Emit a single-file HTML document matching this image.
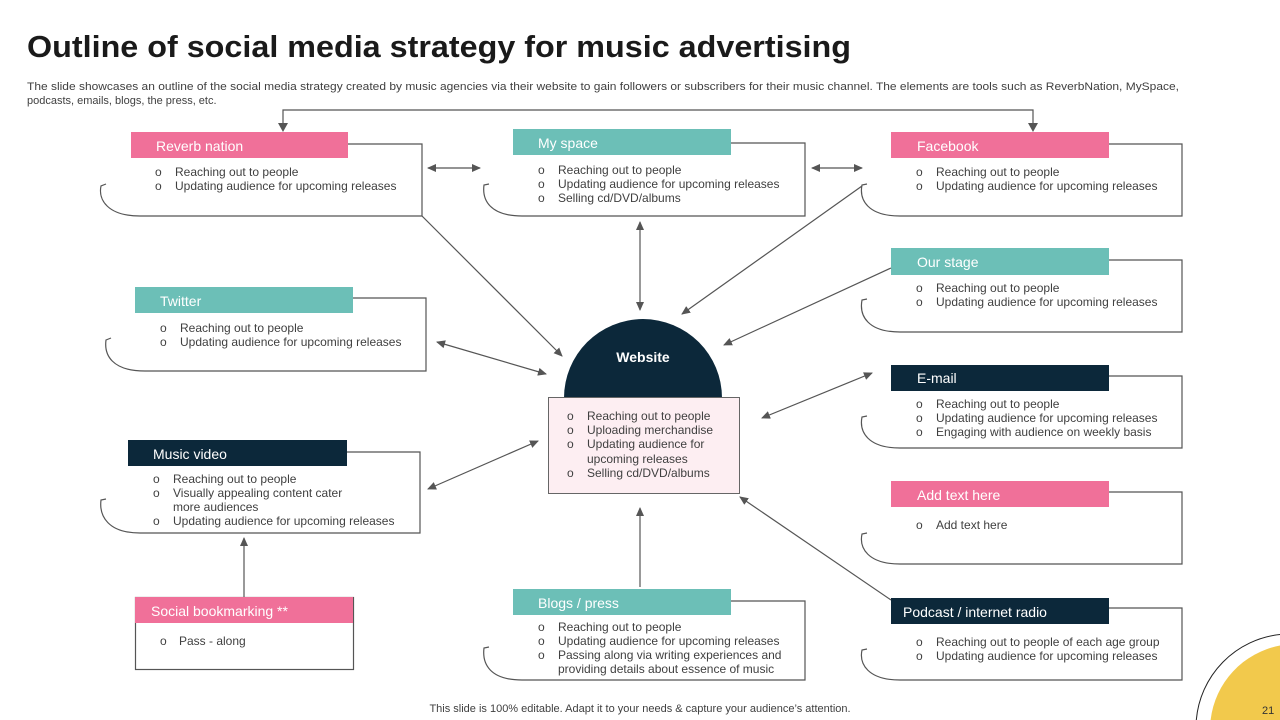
<!DOCTYPE html>
<html><head><meta charset="utf-8"><style>
html,body{margin:0;padding:0;background:#fff;width:1280px;height:720px;overflow:hidden;}
svg{display:block;font-family:"Liberation Sans",sans-serif;}
.b{font-size:12px;fill:#404040;}
.h{font-size:14px;fill:#fff;}
.ln{stroke:#555;stroke-width:1.2;fill:none;}
.ar{stroke:#555;stroke-width:1.2;fill:none;marker-end:url(#a);}
.ar2{stroke:#555;stroke-width:1.2;fill:none;marker-end:url(#a);marker-start:url(#as);}
</style></head><body>
<svg width="1280" height="720" viewBox="0 0 1280 720" xmlns="http://www.w3.org/2000/svg">
<defs>
<marker id="a" markerWidth="10" markerHeight="10" refX="8" refY="5" orient="auto" markerUnits="userSpaceOnUse"><path d="M0,1 L9,5 L0,9 z" fill="#555"/></marker>
<marker id="as" markerWidth="10" markerHeight="10" refX="1" refY="5" orient="auto" markerUnits="userSpaceOnUse"><path d="M9,1 L0,5 L9,9 z" fill="#555"/></marker>
</defs>

<text x="27" y="57" font-size="31" font-weight="bold" fill="#1a1a1a" textLength="824" lengthAdjust="spacingAndGlyphs">Outline of social media strategy for music  advertising</text>
<text x="27" y="90" font-size="11" fill="#404040" textLength="1152" lengthAdjust="spacingAndGlyphs">The slide showcases an outline of the social media strategy created by music agencies via their website to gain followers or subscribers for their music channel. The elements are tools such as ReverbNation, MySpace,</text>
<text x="27" y="104" font-size="11" fill="#404040">podcasts, emails, blogs, the press, etc.</text>

<path class="ln" d="M283,124 V110 H1033 V124"/>
<path d="M278,123 L283,132 L288,123z M1028,123 L1033,132 L1038,123z" fill="#555"/>

<g class="ln">
<path d="M348,144 H422 V216 H140 C108,216 98,200 101,186 L106,184"/>
<path d="M731,143 H805 V216 H522 C490,216 482,200 484,185 L489,184"/>
<path d="M1109,144 H1182 V216 H900 C868,216 859,200 862,185 L867,184"/>
<path d="M353,298 H426 V371 H145 C112,371 104,355 106,340 L111,338"/>
<path d="M1109,260 H1182 V332 H900 C868,332 859,316 862,300 L867,299"/>
<path d="M1109,376 H1182 V448 H900 C868,448 859,432 862,417 L867,416"/>
<path d="M347,452 H420 V533 H140 C108,533 99,516 101,500 L106,499"/>
<path d="M1109,492 H1182 V564 H900 C868,564 859,548 862,534 L867,533"/>
<path d="M731,601 H805 V680 H522 C490,680 482,664 484,648 L489,647"/>
<path d="M1109,608 H1182 V680 H900 C868,680 859,664 862,650 L867,649"/>
<rect x="135.5" y="597.5" width="218" height="72"/>
</g>

<rect x="131" y="132" width="217" height="26" fill="#f07099"/>
<text class="h" x="156" y="151">Reverb nation</text>
<rect x="513" y="129" width="218" height="26" fill="#6cbfb7"/>
<text class="h" x="538" y="148">My space</text>
<rect x="891" y="132" width="218" height="26" fill="#f07099"/>
<text class="h" x="917" y="151">Facebook</text>
<rect x="135" y="287" width="218" height="26" fill="#6cbfb7"/>
<text class="h" x="160" y="306">Twitter</text>
<rect x="891" y="248" width="218" height="27" fill="#6cbfb7"/>
<text class="h" x="917" y="267">Our stage</text>
<rect x="891" y="365" width="218" height="26" fill="#0c283a"/>
<text class="h" x="917" y="383">E-mail</text>
<rect x="128" y="440" width="219" height="26" fill="#0c283a"/>
<text class="h" x="153" y="459">Music video</text>
<rect x="891" y="481" width="218" height="26" fill="#f07099"/>
<text class="h" x="917" y="500">Add text here</text>
<rect x="135" y="597" width="218" height="26" fill="#f07099"/>
<text class="h" x="151" y="616">Social bookmarking **</text>
<rect x="513" y="589" width="218" height="26" fill="#6cbfb7"/>
<text class="h" x="538" y="608">Blogs / press</text>
<rect x="891" y="598" width="218" height="26" fill="#0c283a"/>
<text class="h" x="903" y="617">Podcast / internet radio</text>

<g class="b">
<text x="155" y="176">o</text><text x="175" y="176">Reaching out to people</text>
<text x="155" y="190">o</text><text x="175" y="190">Updating audience for upcoming releases</text>

<text x="538" y="174">o</text><text x="558" y="174">Reaching out to people</text>
<text x="538" y="188">o</text><text x="558" y="188">Updating audience for upcoming releases</text>
<text x="538" y="202">o</text><text x="558" y="202">Selling cd/DVD/albums</text>

<text x="916" y="176">o</text><text x="936" y="176">Reaching out to people</text>
<text x="916" y="190">o</text><text x="936" y="190">Updating audience for upcoming releases</text>

<text x="160" y="332">o</text><text x="180" y="332">Reaching out to people</text>
<text x="160" y="346">o</text><text x="180" y="346">Updating audience for upcoming releases</text>

<text x="916" y="292">o</text><text x="936" y="292">Reaching out to people</text>
<text x="916" y="306">o</text><text x="936" y="306">Updating audience for upcoming releases</text>

<text x="916" y="408">o</text><text x="936" y="408">Reaching out to people</text>
<text x="916" y="422">o</text><text x="936" y="422">Updating audience for upcoming releases</text>
<text x="916" y="436">o</text><text x="936" y="436">Engaging with audience on weekly basis</text>

<text x="153" y="483">o</text><text x="173" y="483">Reaching out to people</text>
<text x="153" y="497">o</text><text x="173" y="497">Visually appealing content cater</text>
<text x="173" y="511">more audiences</text>
<text x="153" y="525">o</text><text x="173" y="525">Updating audience for upcoming releases</text>

<text x="916" y="529">o</text><text x="936" y="529">Add text here</text>

<text x="160" y="645">o</text><text x="179" y="645">Pass - along</text>

<text x="538" y="631">o</text><text x="558" y="631">Reaching out to people</text>
<text x="538" y="645">o</text><text x="558" y="645">Updating audience for upcoming releases</text>
<text x="538" y="659">o</text><text x="558" y="659">Passing along via writing experiences and</text>
<text x="558" y="673">providing details about essence of music</text>

<text x="916" y="646">o</text><text x="936" y="646">Reaching out to people of each age group</text>
<text x="916" y="660">o</text><text x="936" y="660">Updating audience for upcoming releases</text>
</g>

<path d="M564,398 A79,79 0 0 1 722,398 Z" fill="#0c283a"/>
<text x="643" y="362" font-size="14" font-weight="bold" fill="#fff" text-anchor="middle">Website</text>
<rect x="548.5" y="397.5" width="191" height="96" fill="#fdeef2" stroke="#666" stroke-width="1"/>
<g class="b">
<text x="567" y="420">o</text><text x="587" y="420">Reaching out to people</text>
<text x="567" y="434">o</text><text x="587" y="434">Uploading merchandise</text>
<text x="567" y="448">o</text><text x="587" y="448">Updating audience for</text>
<text x="587" y="463">upcoming releases</text>
<text x="567" y="477">o</text><text x="587" y="477">Selling cd/DVD/albums</text>
</g>

<line class="ar2" x1="428" y1="168" x2="480" y2="168"/>
<line class="ar2" x1="812" y1="168" x2="862" y2="168"/>
<line class="ar2" x1="640" y1="222" x2="640" y2="310"/>
<line class="ar" x1="422" y1="216" x2="562" y2="356"/>
<line class="ar" x1="862" y1="186" x2="682" y2="314"/>
<line class="ar" x1="891" y1="268" x2="724" y2="345"/>
<line class="ar2" x1="437" y1="342" x2="546" y2="374"/>
<line class="ar2" x1="872" y1="373" x2="762" y2="418"/>
<line class="ar2" x1="428" y1="489" x2="538" y2="441"/>
<line class="ar" x1="640" y1="587" x2="640" y2="508"/>
<line class="ar" x1="891" y1="600" x2="740" y2="497"/>
<line class="ar" x1="244" y1="597" x2="244" y2="538"/>

<text x="640" y="712" font-size="11" fill="#404040" text-anchor="middle">This slide is 100% editable. Adapt it to your needs &amp; capture your audience’s attention.</text>
<path d="M1196.3,720 A94,94 0 0 1 1280,634.5" fill="none" stroke="#222" stroke-width="1"/>
<path d="M1210.6,720 A86,86 0 0 1 1280,645.5 V720 Z" fill="#f2c94c"/>
<text x="1262" y="714" font-size="11" fill="#333">21</text>
</svg>
</body></html>
